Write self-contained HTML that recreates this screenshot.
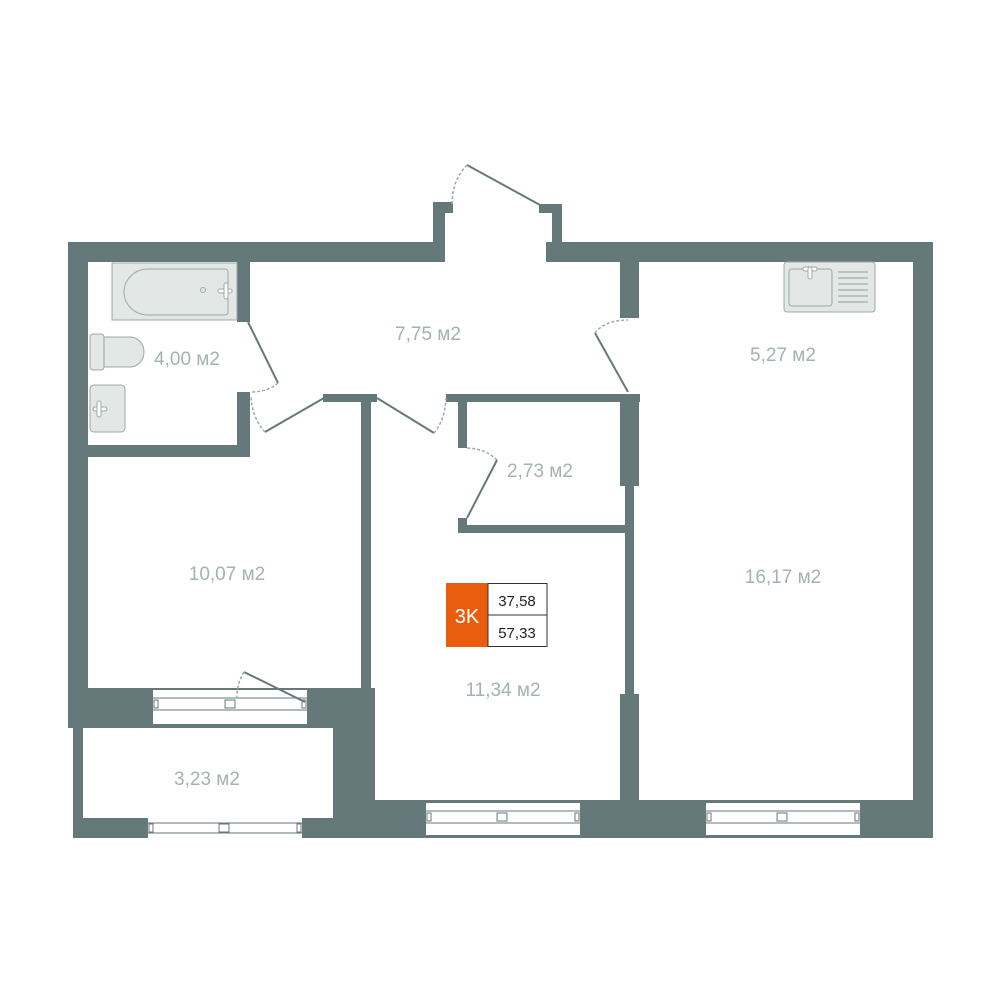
<!DOCTYPE html>
<html><head><meta charset="utf-8"><style>
html,body{margin:0;padding:0;background:#fff;}
svg{display:block}
text{font-family:"Liberation Sans",sans-serif;}
</style></head><body>
<svg width="1000" height="1000" viewBox="0 0 1000 1000" xmlns="http://www.w3.org/2000/svg">
<g fill="#66797a">
<!-- top walls -->
<rect x="68" y="242" width="377" height="20"/>
<rect x="546" y="242" width="387" height="20"/>
<!-- entrance pillars -->
<rect x="433" y="202" width="12" height="42"/>
<rect x="433" y="202" width="20" height="11"/>
<rect x="552" y="204" width="10" height="40"/>
<rect x="539" y="204" width="23" height="9"/>
<!-- left wall -->
<rect x="68" y="242" width="20" height="460"/>
<!-- balcony divider block -->
<rect x="68" y="688" width="307" height="40"/>
<!-- balcony walls -->
<rect x="73" y="726" width="10" height="112"/>
<rect x="73" y="818" width="300" height="20"/>
<rect x="333" y="688" width="42" height="150"/>
<!-- bottom wall -->
<rect x="333" y="800" width="600" height="38"/>
<!-- right wall -->
<rect x="913" y="242" width="20" height="596"/>
<!-- bathroom walls -->
<rect x="237" y="262" width="13" height="60"/>
<rect x="237" y="392" width="13" height="65"/>
<rect x="88" y="445" width="162" height="12"/>
<!-- middle -->
<rect x="323" y="394" width="54" height="8"/>
<rect x="361" y="394" width="10" height="300"/>
<rect x="446" y="394" width="194" height="8"/>
<rect x="458" y="402" width="9" height="46"/>
<rect x="458" y="518" width="9" height="15"/>
<rect x="458" y="525" width="170" height="8"/>
<!-- kitchen/room wall -->
<rect x="620" y="261" width="19" height="57"/>
<rect x="620" y="394" width="19" height="92"/>
<rect x="625" y="486" width="9" height="214"/>
<rect x="620" y="694" width="19" height="110"/>
</g>
<!-- windows -->
<g fill="#fff" stroke="#66797a" stroke-width="1">
<rect x="153" y="690" width="154" height="34" stroke="none"/>
<rect x="426" y="803" width="154" height="32" stroke="none"/>
<rect x="706" y="803" width="154" height="32" stroke="none"/>
<rect x="148" y="818" width="154" height="20" stroke="none"/>
<line x1="153" y1="698" x2="307" y2="698"/><line x1="153" y1="710" x2="307" y2="710"/>
<line x1="426" y1="811" x2="580" y2="811"/><line x1="426" y1="823" x2="580" y2="823"/>
<line x1="706" y1="811" x2="860" y2="811"/><line x1="706" y1="823" x2="860" y2="823"/>
<line x1="148" y1="823" x2="302" y2="823"/><line x1="148" y1="833" x2="302" y2="833"/>
<rect x="154" y="700" width="4" height="8"/><rect x="302" y="700" width="4" height="8"/><rect x="225" y="700" width="10" height="8"/>
<rect x="427" y="813" width="4" height="8"/><rect x="575" y="813" width="4" height="8"/><rect x="497" y="813" width="10" height="8"/>
<rect x="707" y="813" width="4" height="8"/><rect x="855" y="813" width="4" height="8"/><rect x="777" y="813" width="10" height="8"/>
<rect x="149" y="824" width="4" height="8"/><rect x="297" y="824" width="4" height="8"/><rect x="219" y="824" width="10" height="8"/>
</g>
<!-- doors -->
<g stroke="#66797a" stroke-width="2" fill="none">
<line x1="540" y1="205" x2="467" y2="165"/>
<line x1="628" y1="392" x2="595" y2="333"/>
<line x1="377" y1="398" x2="434" y2="433"/>
<line x1="324" y1="398" x2="265" y2="432"/>
<line x1="467" y1="518" x2="497" y2="460"/>
<line x1="248" y1="322" x2="278" y2="383"/>
<line x1="244" y1="672" x2="305" y2="702"/>
</g>
<g stroke="#9aaaa8" stroke-width="1.5" fill="none" stroke-dasharray="3,2">
<path d="M467 165 Q452 180 452 205"/>
<path d="M595 333 Q605 320 628 320"/>
<path d="M434 433 Q445 420 446 398"/>
<path d="M265 432 Q252 418 251 396"/>
<path d="M497 460 Q485 448 465 448"/>
<path d="M278 383 Q268 392 250 392"/>
<path d="M244 672 Q236 685 237 700"/>
</g>
<!-- fixtures -->
<g fill="#e3e7e6" stroke="#9aaaa8" stroke-width="1">
<rect x="112" y="263" width="125" height="57"/>
<path d="M148 269 H225 a3 3 0 0 1 3 3 V312 a3 3 0 0 1 -3 3 H148 a24 23 0 0 1 0 -46 Z" fill="none"/>
<circle cx="203" cy="290" r="2.5" fill="none"/>
<rect x="90" y="334" width="14" height="36" rx="3"/>
<path d="M104 337 H130 a14 15 0 0 1 0 30 H104 Z"/>
<rect x="90" y="385" width="35" height="47" rx="4"/>
<rect x="784" y="262" width="91" height="50" rx="3"/>
<rect x="789" y="269" width="43" height="37" rx="3" fill="none"/>
</g>
<g fill="none" stroke="#b9c4c2" stroke-width="2">
<line x1="838" y1="272" x2="868" y2="272"/><line x1="838" y1="278" x2="868" y2="278"/><line x1="838" y1="284" x2="868" y2="284"/><line x1="838" y1="290" x2="868" y2="290"/><line x1="838" y1="296" x2="868" y2="296"/><line x1="838" y1="302" x2="868" y2="302"/>
</g>
<g fill="#fff" stroke="#9aaaa8" stroke-width="1">
<rect x="218" y="289" width="14" height="4" rx="2"/><rect x="224" y="283" width="4" height="16" rx="2"/>
<rect x="93" y="407" width="14" height="4" rx="2"/><rect x="97" y="401" width="4" height="16" rx="2"/>
<rect x="803" y="267" width="14" height="4" rx="2"/><rect x="808" y="267" width="4" height="12" rx="2"/>
</g>
<!-- labels -->
<g fill="#a3b3b0" font-size="19">
<text x="428" y="340" text-anchor="middle">7,75 м2</text>
<text x="187" y="365" text-anchor="middle">4,00 м2</text>
<text x="783" y="361" text-anchor="middle">5,27 м2</text>
<text x="540" y="477" text-anchor="middle">2,73 м2</text>
<text x="227" y="580" text-anchor="middle">10,07 м2</text>
<text x="783" y="583" text-anchor="middle">16,17 м2</text>
<text x="503" y="696" text-anchor="middle">11,34 м2</text>
<text x="207" y="785" text-anchor="middle">3,23 м2</text>
</g>
<!-- badge -->
<rect x="446" y="583" width="42" height="64" fill="#e85d0e"/>
<rect x="488" y="583.5" width="59" height="31.5" fill="#fff" stroke="#333" stroke-width="1"/>
<rect x="488" y="615" width="59" height="31.5" fill="#fff" stroke="#333" stroke-width="1"/>
<text x="467" y="623" fill="#fff" font-size="20" text-anchor="middle">3K</text>
<text x="517" y="606" fill="#222" font-size="15" text-anchor="middle">37,58</text>
<text x="517" y="638" fill="#222" font-size="15" text-anchor="middle">57,33</text>
</svg>
</body></html>
